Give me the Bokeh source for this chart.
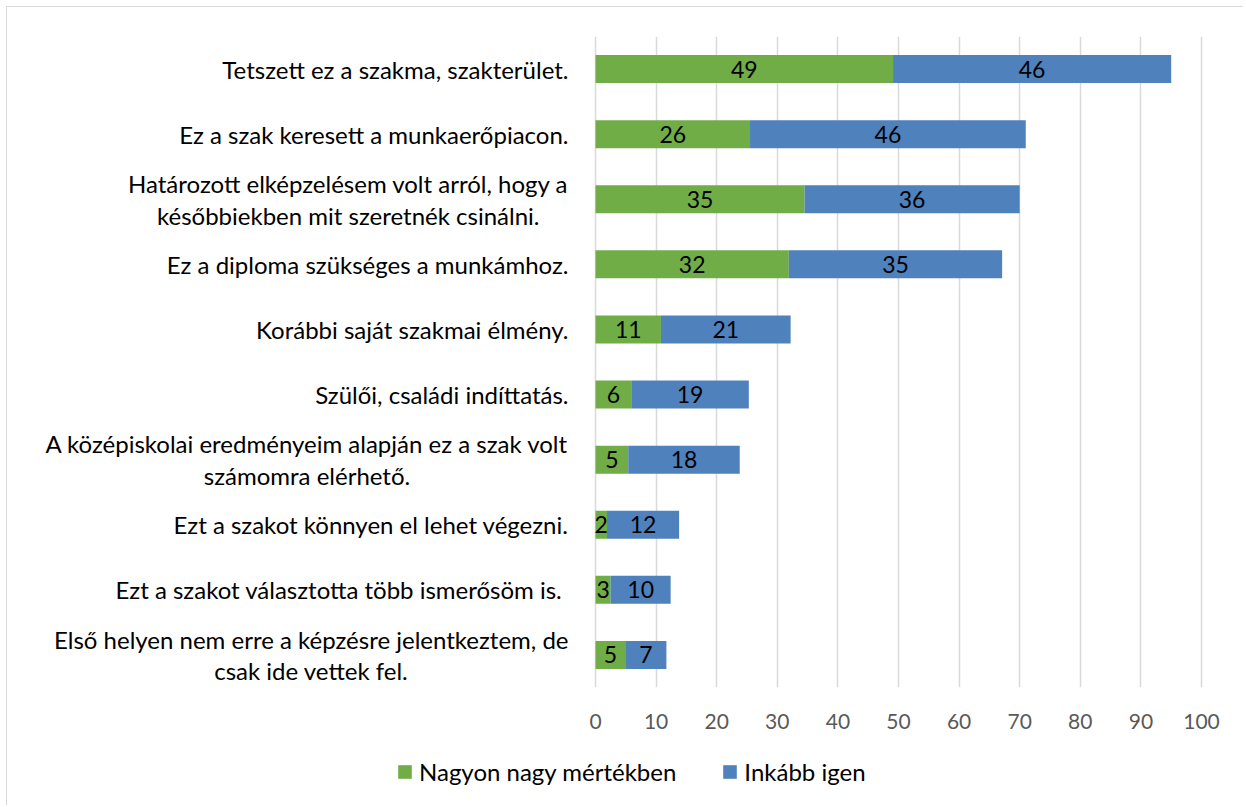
from bokeh.plotting import figure
from bokeh.layouts import column
from bokeh.models import (ColumnDataSource, Range1d, FixedTicker, LabelSet, Text,
                          Legend, LegendItem)
from bokeh.core.properties import value
from bokeh.embed import file_html
from bokeh.resources import INLINE

categories = [
    "Tetszett ez a szakma, szakterület.",
    "Ez a szak keresett a munkaerőpiacon.",
    "Határozott elképzelésem volt arról, hogy a\nkésőbbiekben mit szeretnék csinálni.",
    "Ez a diploma szükséges a munkámhoz.",
    "Korábbi saját szakmai élmény.",
    "Szülői, családi indíttatás.",
    "A középiskolai eredményeim alapján ez a szak volt\nszámomra elérhető.",
    "Ezt a szakot könnyen el lehet végezni.",
    "Ezt a szakot választotta több ismerősöm is. ",
    "Első helyen nem erre a képzésre jelentkeztem, de\ncsak ide vettek fel.",
]
nagyon = [49.1, 25.5, 34.5, 31.9, 10.8, 5.9, 5.4, 1.9, 2.5, 4.9]
inkabb = [45.9, 45.5, 35.5, 35.2, 21.4, 19.4, 18.4, 11.9, 9.9, 6.8]
series_names = ["Nagyon nagy mértékben", "Inkább igen"]
x_ticks = [0, 10, 20, 30, 40, 50, 60, 70, 80, 90, 100]

GREEN = "#70AD47"
BLUE = "#4F81BD"
FONT = "Lato"

def fmt(v):
    return str(int(v + 0.5))

n = len(categories)
ypos = [n - 1 - i for i in range(n)]

src = ColumnDataSource(dict(
    y=ypos,
    g=nagyon,
    b_left=nagyon,
    b_right=[a + b for a, b in zip(nagyon, inkabb)],
    g_mid=[a / 2 for a in nagyon],
    b_mid=[a + b / 2 for a, b in zip(nagyon, inkabb)],
    g_lab=[fmt(a) for a in nagyon],
    b_lab=[fmt(b) for b in inkabb],
    cat=categories,
    zero=[0] * n,
))

OFF = 7            # page offset of the chart box (margin + border)
W, H = 1236, 738
LEFT = 14
FRAME_L, FRAME_R, FRAME_T, FRAME_B = 595 - OFF, 1201 - OFF, 36 - OFF, 687 - OFF
px_per_unit = (FRAME_R - FRAME_L) / 100.0
p = figure(width=W, height=H, output_backend="svg", toolbar_location=None,
           y_axis_location=None,
           x_range=Range1d(-(FRAME_L - LEFT) / px_per_unit, 100 + (W - FRAME_R) / px_per_unit),
           y_range=Range1d(-0.5, n - 0.5),
           min_border_left=LEFT, min_border_right=0, min_border_top=FRAME_T,
           min_border_bottom=H - FRAME_B)
p.outline_line_color = None
p.background_fill_color = "white"
p.border_fill_color = "white"

r_g = p.hbar(y="y", left=0, right="g", height=0.43, source=src, fill_color=GREEN, line_color=None)
r_b = p.hbar(y="y", left="b_left", right="b_right", height=0.43, source=src, fill_color=BLUE, line_color=None)

for col_x, col_t in (("g_mid", "g_lab"), ("b_mid", "b_lab")):
    p.add_layout(LabelSet(x=col_x, y="y", text=col_t, source=src, text_align="center",
                          text_baseline="middle", text_font=value(FONT), text_font_size="23px",
                          text_color="black"))

txt_kw = dict(x="zero", y="y", text="cat", x_offset=-27, text_font=value(FONT),
              text_font_size="24px", text_color="black", text_line_height=1.1,
              text_baseline="middle")
if "anchor" in Text.properties():
    txt_kw.update(anchor="center_right", text_align="center")
else:
    txt_kw.update(text_align="right")
p.add_glyph(src, Text(**txt_kw))

p.ygrid.grid_line_color = None
p.xgrid.grid_line_color = "#d9d9d9"
p.xgrid.grid_line_width = 1.5
p.xgrid.ticker = FixedTicker(ticks=x_ticks)
p.xaxis.ticker = FixedTicker(ticks=x_ticks)
p.xaxis.axis_line_color = None
p.xaxis.major_tick_line_color = None
p.xaxis.minor_tick_line_color = None
p.xaxis.major_tick_out = 0
p.xaxis.major_tick_in = 0
p.xaxis.major_label_standoff = 26
p.xaxis.major_label_text_font = FONT
p.xaxis.major_label_text_font_size = "21px"
p.xaxis.major_label_text_color = "#595959"

# legend strip below the chart (its bars lie outside its visible range)
LH = 60
pl = figure(width=W, height=LH, output_backend="svg", toolbar_location=None,
            x_axis_location=None, y_axis_location=None,
            x_range=Range1d(1000, 1001), y_range=Range1d(1000, 1001),
            min_border_left=0, min_border_right=0, min_border_top=0, min_border_bottom=0)
pl.outline_line_color = None
pl.grid.visible = False
lg_g = pl.hbar(y="y", left=0, right="g", height=0.43, source=src, fill_color=GREEN, line_color=None)
lg_b = pl.hbar(y="y", left="b_left", right="b_right", height=0.43, source=src, fill_color=BLUE, line_color=None)
legend = Legend(items=[LegendItem(label=series_names[0], renderers=[lg_g]),
                       LegendItem(label=series_names[1], renderers=[lg_b])],
                orientation="horizontal", location=(375, 19),
                label_text_font=FONT, label_text_font_size="24px", label_text_color="black",
                glyph_width=17, glyph_height=17, label_standoff=6, spacing=45,
                padding=0, margin=0, border_line_color=None, background_fill_alpha=0)
pl.add_layout(legend, "center")

layout = column(p, pl, spacing=0, margin=(6, 0, 0, 6),
                styles={"border-left": "1px solid #d9d9d9", "border-top": "1px solid #d9d9d9"})
open("out.html", "w").write(file_html(layout, INLINE))
